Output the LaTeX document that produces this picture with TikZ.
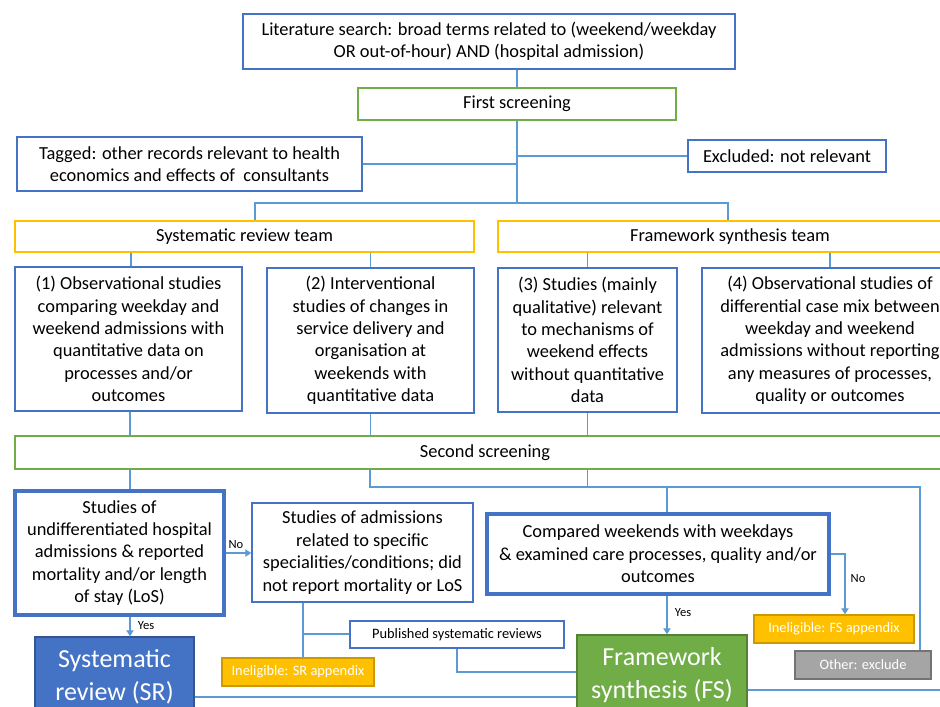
\documentclass[tikz,border=0pt]{standalone}
\usepackage{fontspec}
\setmainfont{Carlito}
\usetikzlibrary{arrows.meta,calc}
\definecolor{bbord}{HTML}{4472C4}
\definecolor{lblue}{HTML}{5B9BD5}
\definecolor{ygold}{HTML}{FFC000}
\definecolor{ggreen}{HTML}{70AD47}
\definecolor{ggray}{HTML}{A5A5A5}
\newcommand\mainfs{\fontsize{13.8}{16.8}\selectfont}
\newcommand\smallfs{\fontsize{10.8}{12.5}\selectfont}
\newcommand\labfs{\fontsize{9.4}{11}\selectfont}
\newcommand\bigfs{\fontsize{19.5}{24.5}\selectfont}
\begin{document}
\begin{tikzpicture}[x=0.75pt,y=-0.75pt,
  sz/.style n args={2}{minimum width=#1*0.75pt, minimum height=#2*0.75pt},
  box/.style={draw=bbord, line width=1.1pt, fill=white, align=center, inner sep=0pt, font=\mainfs},
  thick box/.style={box, line width=2.3pt},
  gbox/.style={box, draw=ggreen},
  ybox/.style={box, draw=ygold},
  filledbox/.style={align=center, inner sep=0pt, font=\bigfs, text=white, line width=1.1pt},
  tagbox/.style={align=center, inner sep=0pt, font=\smallfs, text=white, line width=1.1pt},
  conn/.style={draw=lblue, line width=0.9pt},
  arr/.style={conn, -{Triangle[width=5.5pt,length=4.5pt]}},
  lab/.style={font=\labfs, inner sep=0pt}
]
\useasboundingbox (0,0) rectangle (940,707);
\fill[white] (0,0) rectangle (940,707);
\clip (0,0) rectangle (940,707);

% boxes
\node[box, sz={492}{55}] (lit) at (489,41.5) {Literature search: broad terms related to (weekend/weekday\\OR out-of-hour) AND (hospital admission)};
\node[gbox, sz={318}{32}] (fs1) at (517,104) {First screening};
\node[box, sz={345}{54}] (tag) at (189.5,164) {Tagged: other records relevant to health\\economics and effects of \ consultants};
\node[box, sz={198}{32}] (excl) at (787,156) {Excluded: not relevant};
\node[ybox, sz={459}{31}] (srteam) at (244.5,236.5) {Systematic review team};
\node[ybox, sz={464}{31}] (fsteam) at (730,236.5) {Framework synthesis team};
\node[box, sz={227}{144}] (b1) at (128.5,339) {(1) Observational studies\\comparing weekday and\\weekend admissions with\\quantitative data on\\processes and/or\\outcomes};
\node[box, sz={207}{145}] (b2) at (370.5,340.5) {(2) Interventional\\studies of changes in\\service delivery and\\organisation at\\weekends with\\quantitative data};
\node[box, sz={179}{144}] (b3) at (587.5,340) {(3) Studies (mainly\\qualitative) relevant\\to mechanisms of\\weekend effects\\without quantitative\\data};
\node[box, sz={256}{145}] (b4) at (830,340.5) {(4) Observational studies of\\differential case mix between\\weekday and weekend\\admissions without reporting\\any measures of processes,\\quality or outcomes};
\node[gbox, sz={940}{33}] (ss) at (485,452.5) {Second screening};
\node[thick box, sz={209}{124}] (b5) at (119.5,553) {Studies of\\undifferentiated hospital\\admissions \& reported\\mortality and/or length\\of stay (LoS)};
\node[box, sz={221}{99}] (b6) at (362.5,552.5) {Studies of admissions\\related to specific\\specialities/conditions; did\\not report mortality or LoS};
\node[thick box, sz={342}{80}] (cmp) at (658,554) {Compared weekends with weekdays\\\& examined care processes, quality and/or\\outcomes};
\node[filledbox, fill=bbord, draw=bbord!75!black, sz={159}{80}] (sr) at (114.5,677) {Systematic\\review (SR)};
\node[filledbox, fill=ggreen, draw=ggreen!75!black, sz={170}{80}] (fs) at (662,675) {Framework\\synthesis (FS)};
\node[box, font=\smallfs, sz={214}{27}] (pub) at (457,634.5) {Published systematic reviews};
\node[tagbox, fill=ygold, draw=ygold!80!black, sz={152}{28}] (insr) at (298,672) {Ineligible: SR appendix};
\node[tagbox, fill=ygold, draw=ygold!80!black, sz={160}{28}] (infs) at (834,629) {Ineligible: FS appendix};
\node[tagbox, fill=ggray, draw=ggray!70!black, sz={136}{28}] (oth) at (863,665) {Other: exclude};

% helper coordinates
\coordinate (j1) at (517,203);
\coordinate (jL) at (255,203);
\coordinate (jR) at (728,203);
\coordinate (x131) at (131,0);
\coordinate (x130) at (130,0);
\coordinate (r1) at (370,487);
\coordinate (r2) at (920,487);
\coordinate (c667) at (667,487);
\coordinate (c303) at (303,634);
\coordinate (c457) at (457,672);
\coordinate (c697) at (0,697);
\coordinate (c845) at (845,554);
\coordinate (c690) at (960,690);

% connectors
\draw[conn] (lit.south -| fs1.north) -- (fs1.north);
\draw[conn] (fs1.south) -- (j1);
\draw[conn] (tag.east) -- (tag.east -| j1);
\draw[conn] (excl.west) -- (excl.west -| j1);
\draw[conn] (jL |- srteam.north) -- (jL) -- (jR) -- (jR |- fsteam.north);
\draw[conn] (srteam.south -| x131) -- (b1.north -| x131);
\draw[conn] (srteam.south -| b2.north) -- (b2.north);
\draw[conn] (fsteam.south -| b3.north) -- (b3.north);
\draw[conn] (fsteam.south -| b4.north) -- (b4.north);
\draw[conn] (b1.south -| x130) -- (ss.north -| x130);
\draw[conn] (b2.south) -- (ss.north -| b2.south);
\draw[conn] (b3.south) -- (ss.north -| b3.south);
\draw[conn] (ss.south -| x130) -- (b5.north -| x130);
\draw[conn] (ss.south -| r1) -- (r1) -- (r2) -- (oth.north -| r2);
\draw[conn] (ss.south -| b3.south) -- (b3.south |- r1);
\draw[conn] (c667) -- (cmp.north -| c667);
\draw[arr] (b5.east) -- (b5.east -| b6.west);
\node[lab] (no1) at (236,545) {No};
\draw[arr] (b5.south -| x130) -- (sr.north -| x130);
\node[lab] (yes1) at (146,626) {Yes};
\draw[conn] (b6.south -| c303) -- (insr.north -| c303);
\draw[conn] (c303) -- (c303 -| pub.west);
\draw[conn] (pub.south -| c457) -- (c457) -- (c457 -| fs.west);
\draw[conn] (sr.east |- c697) -- (fs.west |- c697);
\draw[arr] (cmp.south -| c667) -- (fs.north -| c667);
\node[lab] (yes2) at (683,613) {Yes};
\draw[arr] (cmp.east |- c845) -- (c845) -- (infs.north -| c845);
\node[lab] (no2) at (858,579) {No};
\draw[conn] (fs.east |- c690) -- (c690);
\end{tikzpicture}
\end{document}
